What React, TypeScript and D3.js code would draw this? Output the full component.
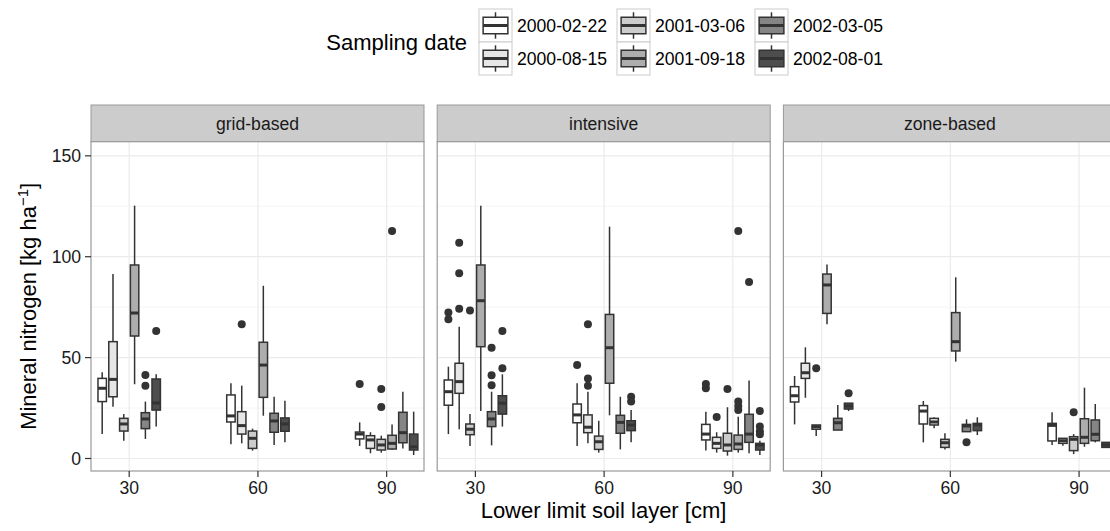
import * as d3 from "d3";

const systems = ["grid-based", "intensive", "zone-based"];
const depths = [30, 60, 90];
const dates = ["2000-02-22", "2000-08-15", "2001-03-06", "2001-09-18", "2002-03-05", "2002-08-01"];
const fills = ["#FFFFFF", "#E6E6E6", "#CCCCCC", "#ADADAD", "#858585", "#4D4D4D"];
const yTicks = [0, 50, 100, 150];
const yMinor = [25, 75, 125];

// [lower whisker, Q1, median, Q3, upper whisker]; 6 dates for depth 30, then 60, then 90
const gridBased = [
  [12.1, 28.2, 34.8, 39.7, 42.7], [25.7, 30.6, 39.2, 57.9, 91.4], [8.8, 13.6, 17.1, 19.9, 22.0],
  [36.8, 60.7, 72.1, 95.9, 125.3], [9.7, 14.8, 19.6, 22.7, 28.2], [15.8, 24.0, 27.5, 39.4, 41.7],
  [7.0, 18.1, 21.1, 31.5, 37.3], [7.5, 12.1, 16.3, 23.2, 36.1], [3.9, 5.0, 10.0, 13.6, 14.8],
  [21.2, 30.3, 46.3, 57.6, 85.6], [6.7, 13.0, 18.6, 22.4, 30.6], [8.0, 13.5, 17.1, 20.1, 28.6],
  [6.2, 9.7, 12.1, 13.1, 17.9], [2.6, 5.0, 9.2, 11.3, 13.0], [2.9, 4.2, 6.7, 9.5, 11.3],
  [4.2, 4.7, 7.5, 11.5, 16.9], [5.0, 7.8, 12.8, 22.9, 33.1], [1.7, 4.2, 5.8, 12.1, 23.2],
];
const gridBasedOutliers = [
  [], [], [], [], [41.4, 36.1], [63.2],
  [], [66.5], [], [], [], [],
  [36.9], [], [34.4, 25.5], [112.7], [], [],
];

const intensive = [
  [12.1, 26.4, 33.1, 38.9, 45.5], [14.5, 32.3, 38.1, 47.2, 65.3], [6.2, 11.8, 14.5, 17.1, 22.0],
  [23.5, 55.4, 78.2, 95.9, 125.3], [6.5, 15.8, 19.6, 23.2, 33.1], [15.8, 22.0, 27.4, 31.1, 41.7],
  [6.2, 17.7, 21.6, 27.0, 37.3], [7.5, 12.8, 15.5, 21.6, 33.1], [2.9, 4.5, 8.3, 11.1, 18.7],
  [21.4, 37.3, 54.9, 71.4, 114.9], [4.5, 12.5, 17.9, 21.4, 30.6], [8.0, 13.8, 16.6, 18.7, 24.0],
  [3.9, 9.2, 12.1, 16.9, 23.2], [2.9, 5.0, 7.5, 10.5, 13.0], [1.4, 3.7, 6.7, 12.5, 25.4],
  [2.9, 4.5, 7.2, 11.6, 20.7], [2.6, 8.0, 12.1, 21.9, 38.6], [1.7, 4.2, 6.7, 7.5, 8.8],
];
const intensiveOutliers = [
  [72.3, 69.0], [106.9, 91.8, 74.2], [73.4], [], [54.9, 41.2, 36.3], [63.2, 44.7],
  [46.3], [66.5, 39.7, 36.1], [], [], [], [30.6, 28.2],
  [36.9, 34.8], [20.6], [34.4], [112.7, 28.2, 26.0, 24.0], [87.5], [23.5, 15.8, 13.5, 12.0],
];

const zoneBased = [
  [16.9, 28.0, 31.1, 35.6, 40.9], [30.1, 39.7, 42.5, 47.2, 55.1], [11.1, 14.5, 15.8, 16.6, 16.6],
  [66.5, 71.9, 86.0, 91.4, 96.2], [14.1, 14.1, 17.7, 19.9, 26.5], [23.5, 24.5, 26.0, 27.4, 27.4],
  [8.0, 17.1, 23.5, 26.2, 28.5], [15.0, 16.6, 18.1, 19.9, 20.4], [4.5, 5.5, 7.8, 9.5, 12.5],
  [48.0, 53.3, 57.9, 72.3, 89.8], [13.3, 13.3, 16.1, 16.9, 19.4], [11.6, 13.8, 16.6, 17.4, 20.4],
  [6.7, 8.7, 16.4, 17.4, 22.9], [6.3, 7.5, 8.8, 10.0, 10.2], [2.2, 3.9, 9.5, 10.8, 12.1],
  [5.8, 7.5, 10.5, 19.7, 35.1], [8.0, 8.8, 12.0, 19.1, 27.0], [5.5, 5.5, 6.7, 8.0, 8.0],
];
const zoneBasedOutliers = [
  [], [], [44.7], [], [], [32.3],
  [], [], [], [], [8.0], [],
  [], [], [22.9], [], [], [],
];

const panelStats = [gridBased, intensive, zoneBased];
const panelOutliers = [gridBasedOutliers, intensiveOutliers, zoneBasedOutliers];

const font = "'Liberation Sans', Arial, Helvetica, sans-serif";
const ink = "#333333";

function BoxGlyph({ cx, w, s, fill, y }) {
  const [lo, q1, med, q3, hi] = s;
  return (
    <g>
      <line x1={cx} x2={cx} y1={y(q3)} y2={y(hi)} stroke={ink} strokeWidth={1.5} />
      <line x1={cx} x2={cx} y1={y(q1)} y2={y(lo)} stroke={ink} strokeWidth={1.5} />
      <rect x={cx - w / 2} y={y(q3)} width={w} height={Math.max(0.5, y(q1) - y(q3))}
        fill={fill} stroke={ink} strokeWidth={1.5} />
      <line x1={cx - w / 2} x2={cx + w / 2} y1={y(med)} y2={y(med)} stroke={ink} strokeWidth={3} />
    </g>
  );
}

export default function App() {
  const width = 1110;
  const height = 531;
  const panelLeft = 91;
  const panelW = 333;
  const panelGap = 13.2;
  const stripTop = 105;
  const plotTop = 141.7;
  const plotBottom = 471;

  const y = d3.scaleLinear().domain([-6.2, 157]).range([plotBottom, plotTop]);
  const fillScale = d3.scaleOrdinal<string, string>().domain(dates).range(fills);

  const legendCols = [479, 617, 755];
  const legendRows = [9, 42];
  const key = 33;
  const keyY = d3.scaleLinear().domain([0, 1]).range([key, 0]);

  return (
    <svg width={width} height={height} style={{ position: "absolute", left: 0, top: 0 }}
      fontFamily={font}>
      <rect width={width} height={height} fill="#ffffff" />

      {/* Legend */}
      <text x={467} y={50} textAnchor="end" fontSize={22} fill="#000">Sampling date</text>
      {dates.map((d, i) => {
        const kx = legendCols[Math.floor(i / 2)];
        const ky = legendRows[i % 2];
        return (
          <g key={d} transform={`translate(${kx},${ky})`}>
            <rect width={key} height={key} fill="#fff" stroke="#cccccc" strokeWidth={1} />
            <BoxGlyph cx={key / 2} w={key * 0.75} fill={fillScale(d)}
              s={[0.1, 0.25, 0.5, 0.75, 0.9]} y={keyY} />
            <text x={key + 5} y={key / 2} dy="0.35em" fontSize={17.6} fill="#000">{d}</text>
          </g>
        );
      })}

      {systems.map((sys, p) => {
        const left = panelLeft + p * (panelW + panelGap);
        const x = d3.scaleLinear().domain([21.1, 98.7]).range([left, left + panelW]);
        const half = x(30 + 7.55) - x(30);
        const stats = panelStats[p];
        const outs = panelOutliers[p];
        return (
          <g key={sys}>
            {/* strip */}
            <rect x={left} y={stripTop} width={panelW} height={plotTop - stripTop}
              fill="#cccccc" stroke="#999999" strokeWidth={1} />
            <text x={left + panelW / 2} y={(stripTop + plotTop) / 2} dy="0.35em" textAnchor="middle"
              fontSize={17.6} fill="#1a1a1a">{sys}</text>

            {/* panel background and grid */}
            <rect x={left} y={plotTop} width={panelW} height={plotBottom - plotTop} fill="#fff" />
            {yMinor.map((t) => (
              <line key={"m" + t} x1={left} x2={left + panelW} y1={y(t)} y2={y(t)}
                stroke="#f4f4f4" strokeWidth={1} />
            ))}
            {yTicks.map((t) => (
              <line key={"g" + t} x1={left} x2={left + panelW} y1={y(t)} y2={y(t)}
                stroke="#ebebeb" strokeWidth={1.2} />
            ))}
            {depths.map((dp) => (
              <line key={"v" + dp} x1={x(dp)} x2={x(dp)} y1={plotTop} y2={plotBottom}
                stroke="#ebebeb" strokeWidth={1.2} />
            ))}

            {/* boxes */}
            {depths.map((dp, di) => {
              const band = d3.scaleBand<string>().domain(dates)
                .range([x(dp) - half, x(dp) + half]).paddingInner(0.22).paddingOuter(0.11);
              return dates.map((dt, ti) => {
                const idx = di * dates.length + ti;
                const cx = (band(dt) as number) + band.bandwidth() / 2;
                return (
                  <g key={dp + dt}>
                    <BoxGlyph cx={cx} w={band.bandwidth()} s={stats[idx]} fill={fillScale(dt)} y={y} />
                    {outs[idx].map((o, k) => (
                      <circle key={k} cx={cx} cy={y(o)} r={4} fill={ink} />
                    ))}
                  </g>
                );
              });
            })}

            {/* panel border */}
            <rect x={left} y={plotTop} width={panelW} height={plotBottom - plotTop}
              fill="none" stroke="#999999" strokeWidth={1.2} />

            {/* x axis */}
            {depths.map((dp) => (
              <g key={"xt" + dp} transform={`translate(${x(dp)},${plotBottom})`}>
                <line y1={0} y2={6} stroke={ink} strokeWidth={1.2} />
                <text y={23} textAnchor="middle" fontSize={17.6} fill="#1a1a1a">{dp}</text>
              </g>
            ))}
          </g>
        );
      })}

      {/* y axis */}
      {yTicks.map((t) => (
        <g key={"yt" + t} transform={`translate(${panelLeft},${y(t)})`}>
          <line x1={-6} x2={0} stroke={ink} strokeWidth={1.2} />
          <text x={-10} dy="0.35em" textAnchor="end" fontSize={17.6} fill="#1a1a1a">{t}</text>
        </g>
      ))}

      {/* axis titles */}
      <text x={603.5} y={518} textAnchor="middle" fontSize={22} fill="#000">
        Lower limit soil layer [cm]
      </text>
      <text transform={`translate(35.5,${(plotTop + plotBottom) / 2}) rotate(-90)`}
        textAnchor="middle" fontSize={22} fill="#000">
        Mineral nitrogen [kg ha<tspan dy={-8} fontSize={15}>−1</tspan><tspan dy={8}>]</tspan>
      </text>
    </svg>
  );
}
